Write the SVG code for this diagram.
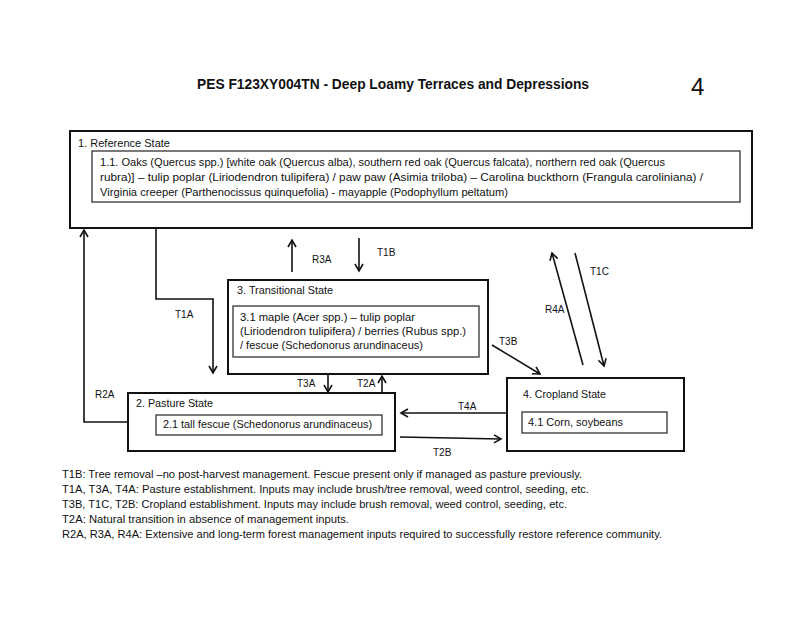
<svg xmlns="http://www.w3.org/2000/svg" width="800" height="617" viewBox="0 0 800 617">
<defs>
<style>
text{font-family:"Liberation Sans",Arial,sans-serif;fill:#111;font-size:10.5px}
.title{font-weight:bold;font-size:14px}
.big{font-size:24px}
.lbl{font-size:10px}
.outer{fill:#fff;stroke:#111;stroke-width:2}
.inner{fill:#fff;stroke:#333;stroke-width:1.3}
.con{fill:none;stroke:#111;stroke-width:1.6}
</style>
<marker id="ah" markerUnits="userSpaceOnUse" markerWidth="12" markerHeight="12" refX="9" refY="5" orient="auto">
<path d="M2,1 L9,5 L2,9" fill="none" stroke="#111" stroke-width="1.6"/>
</marker>
</defs>
<rect width="800" height="617" fill="#fff"/>
<text class="title" x="197" y="89" textLength="392" lengthAdjust="spacingAndGlyphs">PES F123XY004TN -  Deep Loamy Terraces and Depressions</text>
<text class="big" x="691" y="95">4</text>

<g id="connectors">
<path class="con" d="M128,422 H84 V230" marker-end="url(#ah)"/>
<path class="con" d="M156,224 V299 H213 V373" marker-end="url(#ah)"/>
<path class="con" d="M292,272 V240" marker-end="url(#ah)"/>
<path class="con" d="M359,238 V271" marker-end="url(#ah)"/>
<path class="con" d="M492,345 L540,374" marker-end="url(#ah)"/>
<path class="con" d="M583,365 L552,253" marker-end="url(#ah)"/>
<path class="con" d="M575,253 L604,366" marker-end="url(#ah)"/>
<path class="con" d="M328,375 V392" marker-end="url(#ah)"/>
<path class="con" d="M382,393 V376" marker-end="url(#ah)"/>
<path class="con" d="M506,413 H401" marker-end="url(#ah)"/>
<path class="con" d="M400,437 L501,439" marker-end="url(#ah)"/>
<text class="lbl" x="95" y="398">R2A</text>
<text class="lbl" x="175" y="318">T1A</text>
<text class="lbl" x="312" y="263">R3A</text>
<text class="lbl" x="377" y="256">T1B</text>
<text class="lbl" x="499" y="345">T3B</text>
<text class="lbl" x="545" y="313">R4A</text>
<text class="lbl" x="590" y="275">T1C</text>
<text class="lbl" x="297" y="387">T3A</text>
<text class="lbl" x="357" y="387">T2A</text>
<text class="lbl" x="458" y="410">T4A</text>
<text class="lbl" x="433" y="456">T2B</text>
</g>

<g id="reference-state">
<rect class="outer" x="70" y="131" width="682" height="97"/>
<text x="78" y="147" textLength="92" lengthAdjust="spacingAndGlyphs">1. Reference State</text>
<rect class="inner" x="92" y="151" width="648" height="51"/>
<text x="100" y="166" textLength="565" lengthAdjust="spacingAndGlyphs">1.1.  Oaks (Quercus spp.) [white oak (Quercus alba), southern red oak (Quercus falcata), northern red oak (Quercus</text>
<text x="100" y="181" textLength="603" lengthAdjust="spacingAndGlyphs">rubra)] – tulip poplar (Liriodendron tulipifera) / paw paw (Asimia triloba) – Carolina buckthorn (Frangula caroliniana) /</text>
<text x="100" y="196" textLength="408" lengthAdjust="spacingAndGlyphs">Virginia creeper (Parthenocissus quinquefolia) -  mayapple (Podophyllum peltatum)</text>
</g>

<g id="transitional-state">
<rect class="outer" x="228" y="280" width="260" height="94"/>
<text x="237" y="294" textLength="96" lengthAdjust="spacingAndGlyphs">3. Transitional State</text>
<rect class="inner" x="233" y="306" width="246" height="51"/>
<text x="240" y="321" textLength="175" lengthAdjust="spacingAndGlyphs">3.1  maple (Acer spp.) – tulip poplar</text>
<text x="240" y="335" textLength="226" lengthAdjust="spacingAndGlyphs">(Liriodendron tulipifera) / berries (Rubus spp.)</text>
<text x="240" y="349" textLength="183" lengthAdjust="spacingAndGlyphs">/ fescue (Schedonorus arundinaceus)</text>
</g>

<g id="pasture-state">
<rect class="outer" x="128" y="393" width="267" height="58"/>
<text x="136" y="407" textLength="77" lengthAdjust="spacingAndGlyphs">2. Pasture State</text>
<rect class="inner" x="156" y="415" width="226" height="20"/>
<text x="163" y="428" textLength="209" lengthAdjust="spacingAndGlyphs">2.1 tall fescue (Schedonorus arundinaceus)</text>
</g>

<g id="cropland-state">
<rect class="outer" x="507" y="378" width="177" height="73"/>
<text x="523" y="398" textLength="83" lengthAdjust="spacingAndGlyphs">4. Cropland State</text>
<rect class="inner" x="522" y="412" width="145" height="21"/>
<text x="528" y="426" textLength="95" lengthAdjust="spacingAndGlyphs">4.1 Corn, soybeans</text>
</g>

<g id="notes">
<text x="62" y="478" textLength="520" lengthAdjust="spacingAndGlyphs">T1B: Tree removal –no post-harvest management.  Fescue present only if managed as pasture previously.</text>
<text x="62" y="493" textLength="527" lengthAdjust="spacingAndGlyphs">T1A, T3A, T4A: Pasture establishment.  Inputs may include brush/tree removal, weed control, seeding, etc.</text>
<text x="62" y="508" textLength="505" lengthAdjust="spacingAndGlyphs">T3B, T1C, T2B: Cropland establishment. Inputs may include brush removal, weed control, seeding, etc.</text>
<text x="62" y="523" textLength="287" lengthAdjust="spacingAndGlyphs">T2A: Natural transition in absence of management inputs.</text>
<text x="62" y="538" textLength="600" lengthAdjust="spacingAndGlyphs">R2A, R3A, R4A: Extensive and long-term forest management inputs required to successfully restore reference community.</text>
</g>
</svg>
